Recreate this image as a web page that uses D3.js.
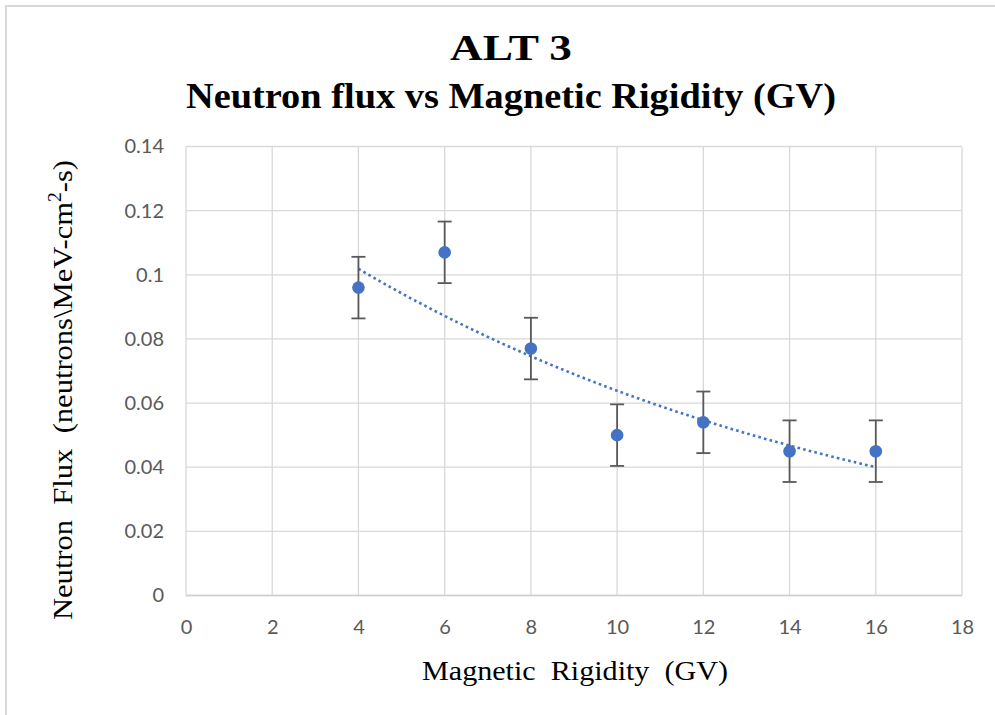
<!DOCTYPE html>
<html><head><meta charset="utf-8">
<script src="https://cdn.jsdelivr.net/npm/d3@7"></script>
<style>body{margin:0;background:#fff}</style>
</head><body>
<svg id="c" width="995" height="715"></svg>
<script>
const rigidity = [4, 6, 8, 10, 12, 14, 16];
const flux = [0.096, 0.107, 0.077, 0.050, 0.054, 0.045, 0.045];
const fluxError = [0.0096, 0.0096, 0.0096, 0.0096, 0.0096, 0.0096, 0.0096];
const xTicks = [0, 2, 4, 6, 8, 10, 12, 14, 16, 18];
const yTicks = [0, 0.02, 0.04, 0.06, 0.08, 0.1, 0.12, 0.14];

const svg = d3.select("#c");
const L = 186, R = 962, T = 146.5, B = 595.5;
const x = d3.scaleLinear().domain([0, 18]).range([L, R]);
const y = d3.scaleLinear().domain([0, 0.14]).range([B, T]);

// chart border (top/left visible)
svg.append("path").attr("d", "M6,715 L6,6 L995,6").attr("fill", "none")
  .attr("stroke", "#d9d9d9").attr("stroke-width", 2);

// gridlines
svg.append("g").selectAll("line").data(yTicks).join("line")
  .attr("x1", L).attr("x2", R).attr("y1", d => y(d)).attr("y2", d => y(d))
  .attr("stroke", "#d9d9d9").attr("stroke-width", 1.3);
svg.append("g").selectAll("line").data(xTicks).join("line")
  .attr("y1", T).attr("y2", B).attr("x1", d => x(d)).attr("x2", d => x(d))
  .attr("stroke", "#d9d9d9").attr("stroke-width", 1.3);
svg.append("line").attr("x1", L).attr("x2", R).attr("y1", B).attr("y2", B)
  .attr("stroke", "#d0d0d0").attr("stroke-width", 1.5);

// axes (labels only)
const xAxis = svg.append("g").attr("transform", `translate(0,${B})`)
  .call(d3.axisBottom(x).tickValues(xTicks).tickSize(0).tickPadding(24).tickFormat(d3.format("d")));
const yAxis = svg.append("g").attr("transform", `translate(${L},0)`)
  .call(d3.axisLeft(y).tickValues(yTicks).tickSize(0).tickPadding(22).tickFormat(d => d === 0 ? "0" : String(+d.toFixed(2))));
[xAxis, yAxis].forEach(a => {
  a.select(".domain").remove();
  a.selectAll("text").attr("fill", "#595959").attr("font-family", "Lato, 'Open Sans', sans-serif").attr("font-size", 20);
});
xAxis.selectAll("text").attr("dy", "0.71em");

// exponential trendline computed from the data (least squares on ln y)
const lnY = flux.map(Math.log);
const mx = d3.mean(rigidity), my = d3.mean(lnY);
const slope = d3.sum(rigidity, (v, i) => (v - mx) * (lnY[i] - my)) / d3.sum(rigidity, v => (v - mx) ** 2);
const icpt = my - slope * mx;
const trendX = d3.range(rigidity[0], rigidity[rigidity.length - 1] + 0.001, 0.25);
svg.append("path").datum(trendX)
  .attr("d", d3.line().x(d => x(d)).y(d => y(Math.exp(icpt + slope * d))))
  .attr("fill", "none").attr("stroke", "#4472c4").attr("stroke-width", 2.6)
  .attr("stroke-dasharray", "2.6,3.2");

// error bars
const eb = svg.append("g").attr("stroke", "#595959").attr("stroke-width", 1.8);
rigidity.forEach((r, i) => {
  const cx = x(r), y1 = y(flux[i] + fluxError[i]), y2 = y(flux[i] - fluxError[i]);
  eb.append("line").attr("x1", cx).attr("x2", cx).attr("y1", y1).attr("y2", y2);
  eb.append("line").attr("x1", cx - 7).attr("x2", cx + 7).attr("y1", y1).attr("y2", y1);
  eb.append("line").attr("x1", cx - 7).attr("x2", cx + 7).attr("y1", y2).attr("y2", y2);
});

// markers
svg.append("g").selectAll("circle").data(rigidity).join("circle")
  .attr("cx", d => x(d)).attr("cy", (d, i) => y(flux[i])).attr("r", 6.3)
  .attr("fill", "#4472c4");

// titles
const serif = "'Liberation Serif', 'Times New Roman', serif";
svg.append("text").attr("x", 511).attr("y", 60).attr("text-anchor", "middle")
  .attr("font-family", serif).attr("font-weight", "bold").attr("font-size", 35)
  .attr("textLength", 122).attr("lengthAdjust", "spacingAndGlyphs").text("ALT 3");
svg.append("text").attr("x", 511).attr("y", 108).attr("text-anchor", "middle")
  .attr("font-family", serif).attr("font-weight", "bold").attr("font-size", 35)
  .attr("textLength", 650).attr("lengthAdjust", "spacingAndGlyphs")
  .text("Neutron flux vs Magnetic Rigidity (GV)");

svg.append("text").attr("x", 575).attr("y", 680).attr("text-anchor", "middle")
  .attr("font-family", serif).attr("font-size", 28).attr("fill", "#000")
  .attr("textLength", 306).attr("lengthAdjust", "spacingAndGlyphs")
  .style("white-space", "pre").text("Magnetic  Rigidity  (GV)");

const yt = svg.append("text").attr("transform", "translate(72,390) rotate(-90)")
  .attr("text-anchor", "middle").attr("font-family", serif).attr("font-size", 28)
  .attr("textLength", 460).attr("lengthAdjust", "spacingAndGlyphs")
  .style("white-space", "pre");
yt.append("tspan").text("Neutron  Flux  (neutrons\\MeV-cm");
yt.append("tspan").attr("font-size", 18).attr("dy", -11).text("2");
yt.append("tspan").attr("dy", 11).text("-s)");
</script>
</body></html>
